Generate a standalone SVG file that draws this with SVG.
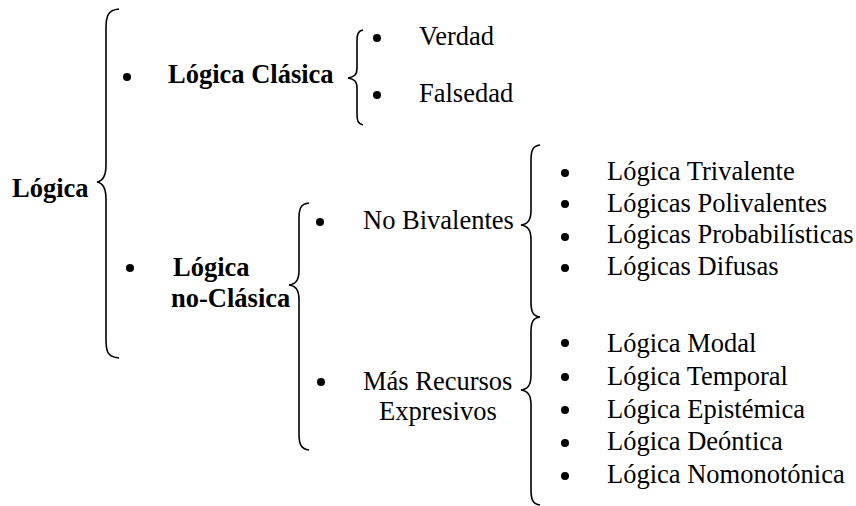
<svg xmlns="http://www.w3.org/2000/svg" width="856" height="506" viewBox="0 0 856 506">
<style>
text{font-family:'Liberation Serif','Tinos','Times New Roman','Times','DejaVu Serif',serif;font-size:26.5px;fill:#000}
.b{font-weight:bold}
.br{fill:none;stroke:#000;stroke-width:1.6}
circle{fill:#000}
</style>
<rect width="856" height="506" fill="#fff"/>
<g id="connectors">
<path class="br" d="M119,9 C108,10 106,16 106,28 L106,165 C106,176 103,181 97,182 C103,183 106,188 106,199 L106,340 C106,352 108,357 119,358"/>
<path class="br" d="M363,30 C358,31 357,34 357,42 L357,68 C357,75 354,77 348,78 C354,79 357,81 357,88 L357,113 C357,121 358,124 363,125"/>
<path class="br" d="M309,203 C301,204 299,208 299,218 L299,270 C299,280 296,284 289,285 C296,286 299,290 299,300 L299,434 C299,444 301,449 309,450"/>
<path class="br" d="M540,145 C533,146 531,150 531,160 L531,210 C531,220 528,224 521,225 C528,226 531,230 531,240 L531,302 C531,312 533,316 540,317 C533,318 531,322 531,332 L531,375 C531,385 528,389 521,390 C528,391 531,395 531,405 L531,490 C531,500 533,504 540,505"/>
</g>
<g id="n-logica"><text class="b" x="12" y="197">Lógica</text></g>
<g id="n-clasica"><circle cx="127" cy="77" r="4"/><text class="b" x="168" y="83">Lógica Clásica</text></g>
<g id="n-verdad"><circle cx="377" cy="38" r="4"/><text x="419" y="45">Verdad</text></g>
<g id="n-falsedad"><circle cx="377" cy="95" r="4"/><text x="419" y="102">Falsedad</text></g>
<g id="n-noclasica"><circle cx="130" cy="268" r="4"/><text class="b" x="173" y="276">Lógica</text><text class="b" x="171" y="307">no-Clásica</text></g>
<g id="n-nobiv"><circle cx="320" cy="222" r="4"/><text x="363" y="229">No Bivalentes</text></g>
<g id="n-mas"><circle cx="321" cy="382" r="4"/><text x="363" y="390">Más Recursos</text><text x="379" y="420">Expresivos</text></g>
<g id="n-trivalente"><circle cx="565" cy="173" r="4"/><text x="607" y="180">Lógica Trivalente</text></g>
<g id="n-polivalentes"><circle cx="565" cy="204" r="4"/><text x="607" y="212">Lógicas Polivalentes</text></g>
<g id="n-probabilisticas"><circle cx="565" cy="237" r="4"/><text x="607" y="243">Lógicas Probabilísticas</text></g>
<g id="n-difusas"><circle cx="565" cy="268" r="4"/><text x="607" y="275">Lógicas Difusas</text></g>
<g id="n-modal"><circle cx="565" cy="343" r="4"/><text x="607" y="352">Lógica Modal</text></g>
<g id="n-temporal"><circle cx="565" cy="377" r="4"/><text x="607" y="385">Lógica Temporal</text></g>
<g id="n-epistemica"><circle cx="565" cy="410" r="4"/><text x="607" y="418">Lógica Epistémica</text></g>
<g id="n-deontica"><circle cx="565" cy="443" r="4"/><text x="607" y="450">Lógica Deóntica</text></g>
<g id="n-nomonotonica"><circle cx="565" cy="476" r="4"/><text x="607" y="483">Lógica Nomonotónica</text></g>
</svg>
